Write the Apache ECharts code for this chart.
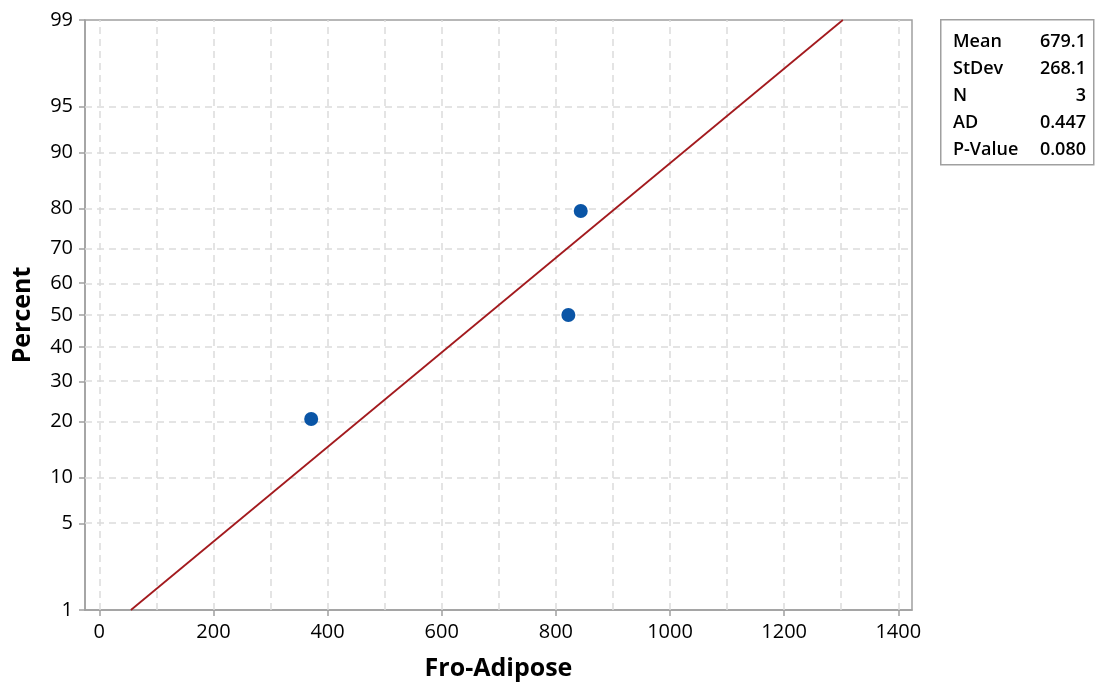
<!DOCTYPE html>
<html>
<head>
<meta charset="utf-8">
<script src="https://cdn.jsdelivr.net/npm/echarts@6/dist/echarts.min.js"></script>
<style>
html,body{margin:0;padding:0;background:#fff;}
#c{width:1098px;height:687px;}
</style>
</head>
<body>
<div id="c"></div>
<script>
// ---- data ----
var pointsX = [371.3, 821.9, 843.6];
var pointsPct = [20.6, 50, 79.4];
var fitX = [55.4, 1302.8];
var fitPct = [1, 99];
var yTickPct = [1, 5, 10, 20, 30, 40, 50, 60, 70, 80, 90, 95, 99];
var xTickVals = [0, 200, 400, 600, 800, 1000, 1200, 1400];
var xGridVals = [0, 100, 200, 300, 400, 500, 600, 700, 800, 900, 1000, 1100, 1200, 1300, 1400];
var statNames = ['Mean', 'StDev', 'N', 'AD', 'P-Value'];
var statValues = ['679.1', '268.1', '3', '0.447', '0.080'];

// inverse standard normal CDF (probability-scale transform)
function probit(p) {
  var a = [-3.969683028665376e+01, 2.209460984245205e+02, -2.759285104469687e+02, 1.383577518672690e+02, -3.066479806614716e+01, 2.506628277459239e+00];
  var b = [-5.447609879822406e+01, 1.615858368580409e+02, -1.556989798598866e+02, 6.680131188771972e+01, -1.328068155288572e+01];
  var c = [-7.784894002430293e-03, -3.223964580411365e-01, -2.400758277161838e+00, -2.549732539343734e+00, 4.374664141464968e+00, 2.938163982698783e+00];
  var d = [7.784695709041462e-03, 3.224671290700398e-01, 2.445134137142996e+00, 3.754408661907416e+00];
  var pl = 0.02425, q, r;
  if (p < pl) {
    q = Math.sqrt(-2 * Math.log(p));
    return (((((c[0]*q+c[1])*q+c[2])*q+c[3])*q+c[4])*q+c[5]) / ((((d[0]*q+d[1])*q+d[2])*q+d[3])*q+1);
  } else if (p <= 1 - pl) {
    q = p - 0.5; r = q*q;
    return (((((a[0]*r+a[1])*r+a[2])*r+a[3])*r+a[4])*r+a[5])*q / (((((b[0]*r+b[1])*r+b[2])*r+b[3])*r+b[4])*r+1);
  } else {
    q = Math.sqrt(-2 * Math.log(1 - p));
    return -(((((c[0]*q+c[1])*q+c[2])*q+c[3])*q+c[4])*q+c[5]) / ((((d[0]*q+d[1])*q+d[2])*q+d[3])*q+1);
  }
}
function z(pct) { return probit(pct / 100); }

var FONT = '"Open Sans", "Noto Sans", sans-serif';
var yTickZ = yTickPct.map(z);
var zMin = z(1), zMax = z(99);

var chart = echarts.init(document.getElementById('c'), null, {renderer: 'canvas'});

var gridLineStyle = {color: '#dcdcdc', type: [7, 5], width: 1.5};

// stats box graphics
var graphics = [{
  type: 'rect', left: 940, top: 19,
  shape: {width: 153, height: 145},
  style: {fill: '#fff', stroke: '#a0a0a0', lineWidth: 1.5}
}];
for (var i = 0; i < statNames.length; i++) {
  var yy = 42 + i * 27;
  graphics.push({type: 'text', x: 953, y: yy,
    style: {text: statNames[i], font: '600 18px ' + FONT, fill: '#000', textAlign: 'left', textVerticalAlign: 'middle'}});
  graphics.push({type: 'text', x: 1086, y: yy,
    style: {text: statValues[i], font: '600 18px ' + FONT, fill: '#000', textAlign: 'right', textVerticalAlign: 'middle'}});
}

var option = {
  animation: false,
  backgroundColor: '#fff',
  grid: {left: 85, right: 186, top: 20, bottom: 77, show: true, borderColor: '#a0a0a0', borderWidth: 1.5, backgroundColor: 'transparent'},
  xAxis: {
    type: 'value', min: -25, max: 1424,
    name: 'Fro-Adipose', nameLocation: 'middle', nameGap: 46,
    nameTextStyle: {fontFamily: FONT, fontWeight: 'bold', fontSize: 25, color: '#000'},
    axisLine: {show: true, onZero: false, lineStyle: {color: '#a0a0a0', width: 1.5}},
    axisTick: {show: true, length: 6, customValues: xTickVals, lineStyle: {color: '#a0a0a0', width: 1.5}},
    axisLabel: {customValues: xTickVals, fontFamily: FONT, fontSize: 20, color: '#000', margin: 12,
      formatter: function (v) { return String(Math.round(v)); }},
    splitLine: {show: false}
  },
  yAxis: {
    type: 'value', min: zMin, max: zMax,
    name: 'Percent', nameLocation: 'middle', nameGap: 50,
    nameTextStyle: {fontFamily: FONT, fontWeight: 'bold', fontSize: 25, color: '#000'},
    axisLine: {show: true, onZero: false, lineStyle: {color: '#a0a0a0', width: 1.5}},
    axisTick: {show: true, length: 6, customValues: yTickZ, lineStyle: {color: '#a0a0a0', width: 1.5}},
    axisLabel: {customValues: yTickZ, fontFamily: FONT, fontSize: 20, color: '#000', margin: 12,
      formatter: function (v) {
        var best = yTickPct[0], bd = 1e9;
        yTickPct.forEach(function (p) { var dd = Math.abs(z(p) - v); if (dd < bd) { bd = dd; best = p; } });
        return String(best);
      }},
    splitLine: {show: false}
  },
  graphic: graphics,
  series: [
    {
      type: 'line', data: [], silent: true, z: 1,
      markLine: {
        silent: true, z: 1, symbol: ['none', 'none'], label: {show: false},
        lineStyle: gridLineStyle, animation: false,
        emphasis: {disabled: true},
        data: xGridVals.map(function (v) { return {xAxis: v}; })
          .concat(yTickPct.slice(1, -1).map(function (p) { return {yAxis: z(p)}; }))
      }
    },
    {
      type: 'line', silent: true, symbol: 'none',
      lineStyle: {color: '#a31a1e', width: 1.8},
      data: fitX.map(function (x, k) { return [x, z(fitPct[k])]; }),
      z: 3
    },
    {
      type: 'scatter', symbol: 'circle', symbolSize: 14,
      itemStyle: {color: '#0a55a6', opacity: 1},
      data: pointsX.map(function (x, k) { return [x, z(pointsPct[k])]; }),
      z: 4
    }
  ]
};
chart.setOption(option);
</script>
</body>
</html>
